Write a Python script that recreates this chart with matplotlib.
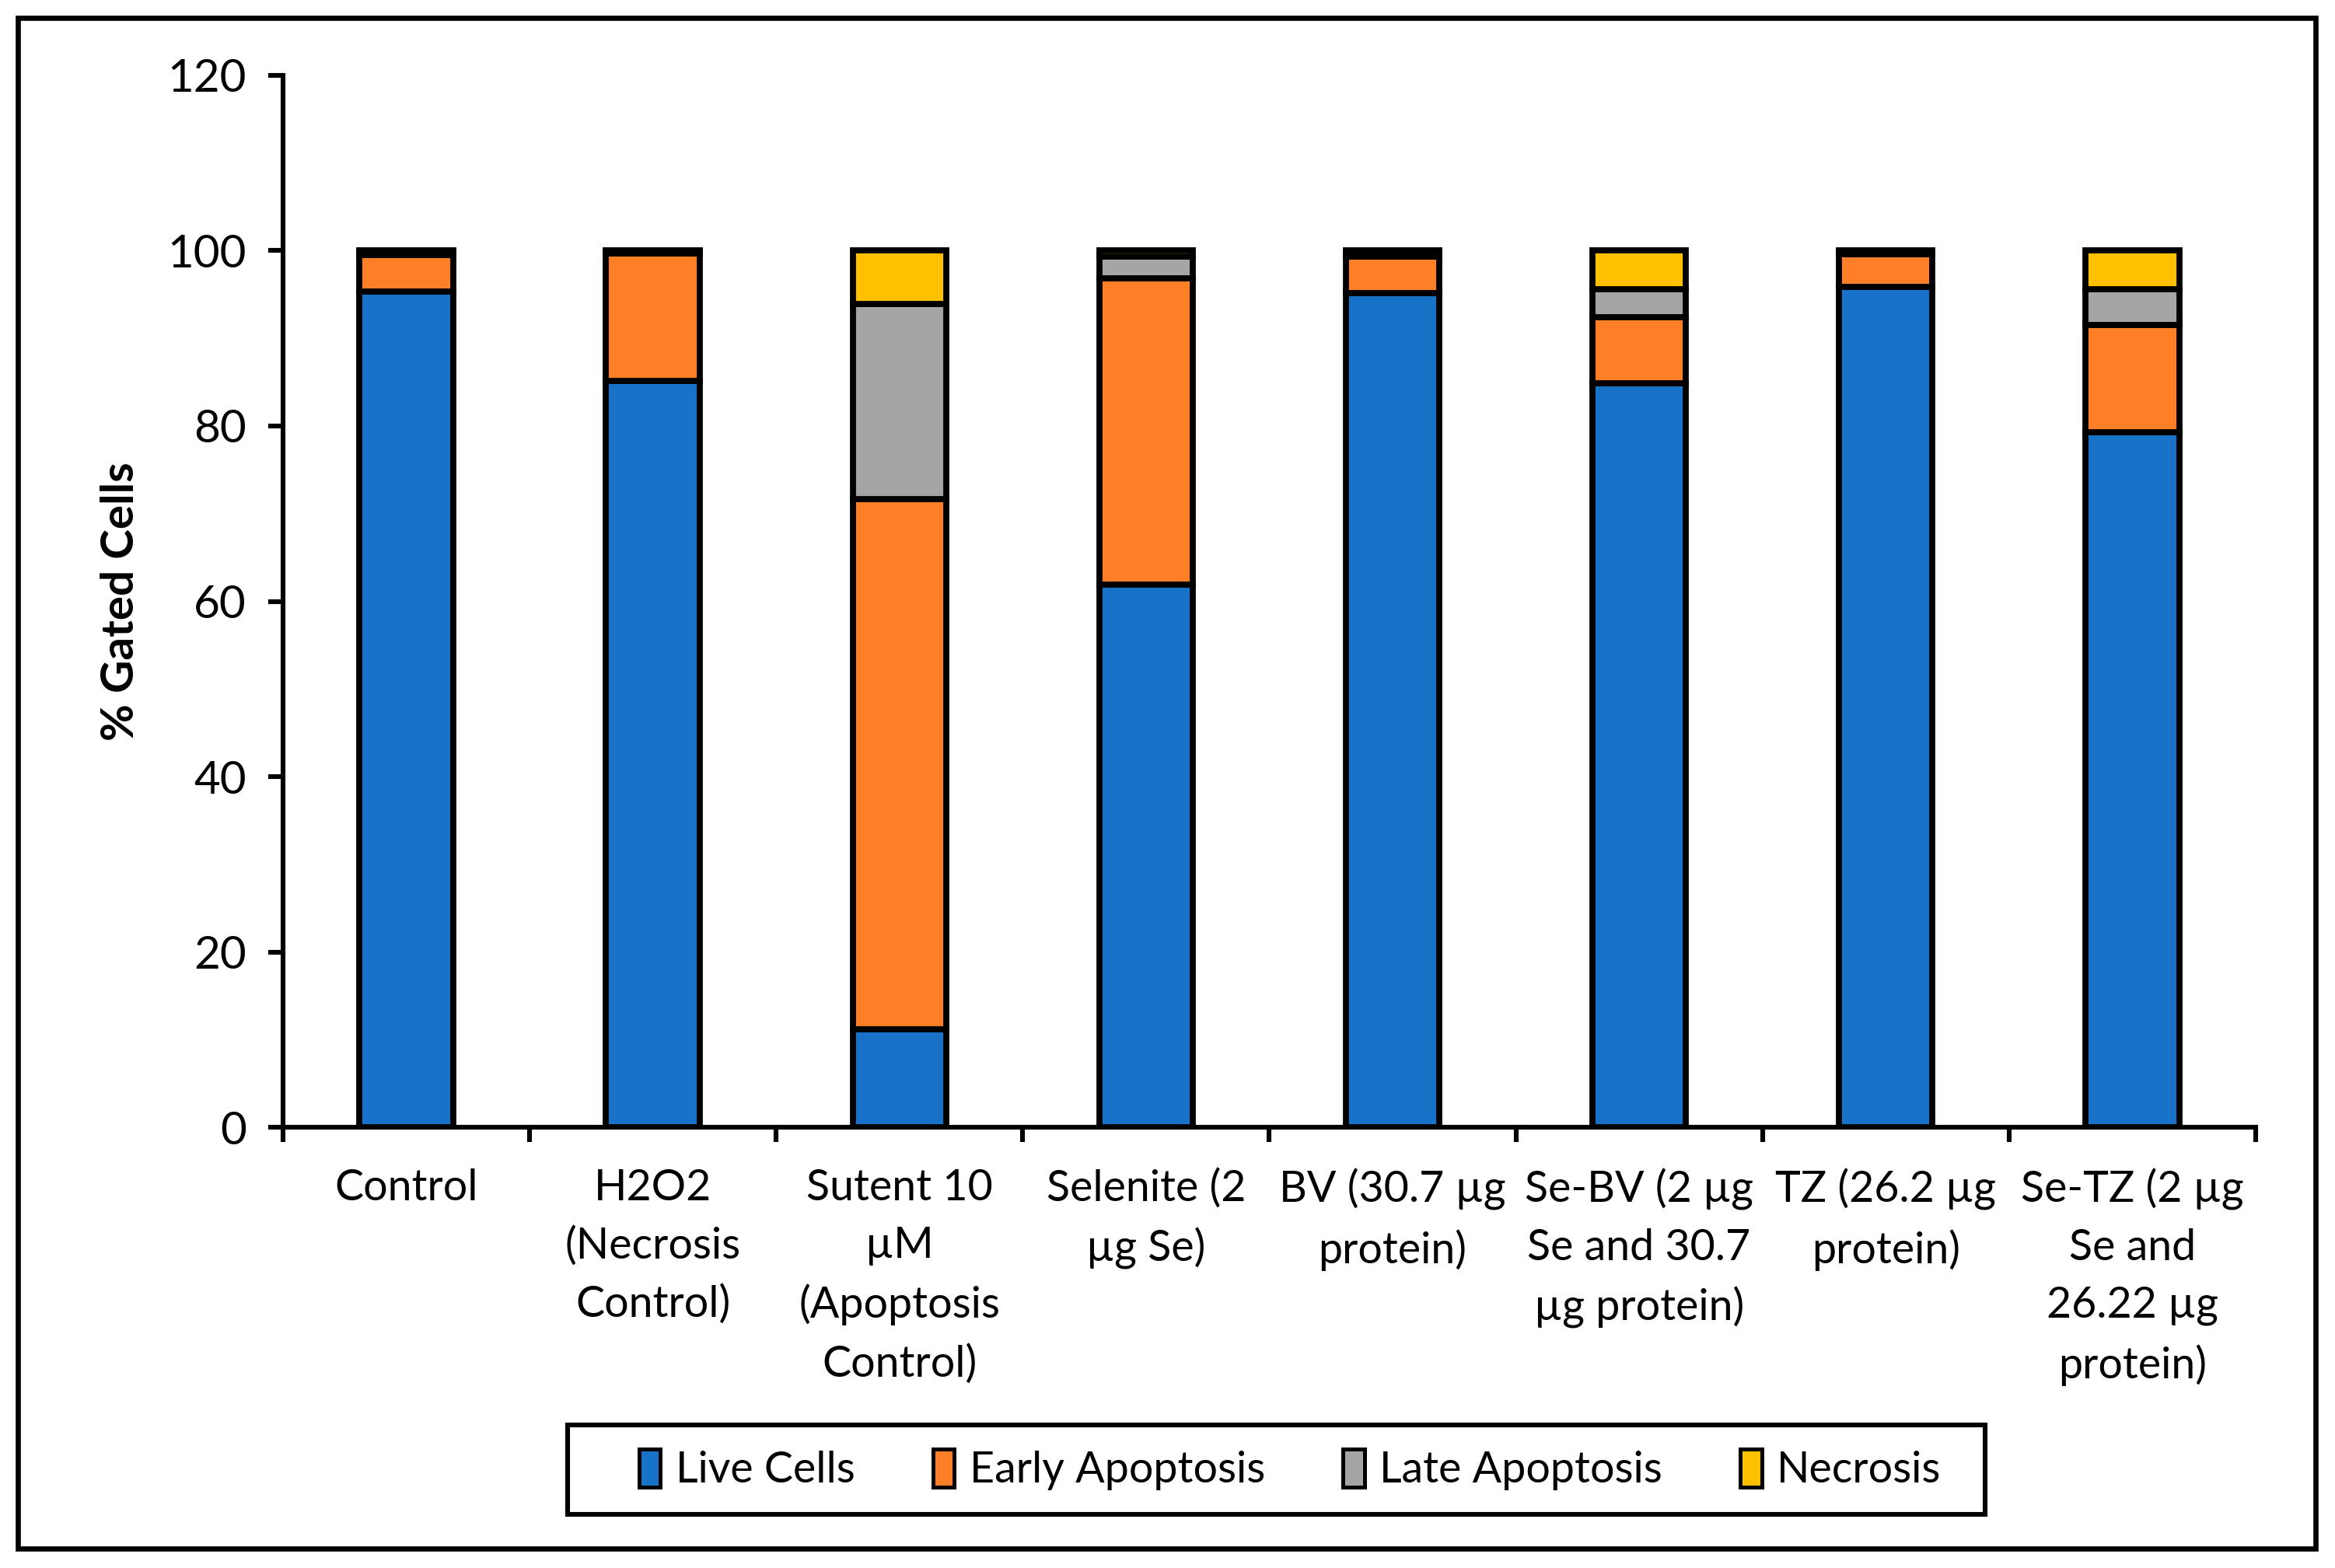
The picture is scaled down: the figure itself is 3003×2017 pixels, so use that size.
import matplotlib
matplotlib.use('Agg')
import matplotlib.pyplot as plt
from matplotlib.patches import Rectangle, Patch
import numpy as np

plt.rcParams['font.family'] = ['Lato', 'DejaVu Sans']

categories = [
    'Control',
    'H2O2\n(Necrosis\nControl)',
    'Sutent 10\nµM\n(Apoptosis\nControl)',
    'Selenite (2\nµg Se)',
    'BV (30.7 µg\nprotein)',
    'Se-BV (2 µg\nSe and 30.7\nµg protein)',
    'TZ (26.2 µg\nprotein)',
    'Se-TZ (2 µg\nSe and\n26.22 µg\nprotein)',
]

live_cells = [95.3, 85.1, 11.2, 61.9, 95.2, 84.9, 95.9, 79.3]
early_apoptosis = [4.2, 14.6, 60.5, 34.9, 4.1, 7.5, 3.7, 12.2]
late_apoptosis = [0.2, 0.1, 22.2, 2.5, 0.3, 3.2, 0.1, 4.1]
necrosis = [0.3, 0.2, 6.1, 0.7, 0.4, 4.4, 0.3, 4.4]

series_names = ['Live Cells', 'Early Apoptosis', 'Late Apoptosis', 'Necrosis']
series_colors = ['#1872C8', '#FF7F27', '#A5A5A5', '#FFC000']

y_ticks = [0, 20, 40, 60, 80, 100, 120]

width, height = 3003, 2017
dpi = 200
fig = plt.figure(figsize=(width / dpi, height / dpi), dpi=dpi)
ax = fig.add_axes([0.1212, 0.281, 0.966 - 0.1212, 0.952 - 0.281])

x = np.arange(len(categories))
bottom = np.zeros(len(categories))
for vals, name, col in zip([live_cells, early_apoptosis, late_apoptosis, necrosis],
                           series_names, series_colors):
    ax.bar(x, vals, width=0.38, bottom=bottom, color=col, edgecolor='black',
           linewidth=2.8, label=name, zorder=3)
    bottom += np.array(vals)

ax.set_xlim(-0.5, len(categories) - 0.5)
ax.set_ylim(0, 120)
ax.set_yticks(y_ticks)
ax.tick_params(axis='y', direction='out', length=7, width=2.2, labelsize=21, pad=10)

ax.set_xticks(x)
ax.set_xticklabels(categories, fontsize=20, linespacing=1.55, va='top')
ax.set_xticks(np.arange(-0.5, len(categories)), minor=True)
ax.tick_params(axis='x', which='major', length=0, pad=19)
ax.tick_params(axis='x', which='minor', direction='out', length=7, width=2.2)

for s in ['top', 'right']:
    ax.spines[s].set_visible(False)
for s in ['left', 'bottom']:
    ax.spines[s].set_linewidth(2.2)

ax.set_ylabel('% Gated Cells', fontsize=21, fontweight='bold')
ax.yaxis.set_label_coords(-0.0717, 0.5)

# legend entries without frame, box drawn separately
handles = [Patch(facecolor=c, edgecolor='black', linewidth=1.8) for c in series_colors]
leg = fig.legend(handles, series_names, loc='center', bbox_to_anchor=(0.5525, 0.0627),
                 ncol=4, fontsize=20, frameon=False,
                 handlelength=0.5, handleheight=1.0, handletextpad=0.35,
                 columnspacing=1.8, borderpad=0.3)
fig.patches.append(Rectangle((0.2431, 0.0342), 0.8501 - 0.2431, 0.0912 - 0.0342,
                             transform=fig.transFigure, fill=False,
                             edgecolor='black', linewidth=2.2))

fig.patches.append(Rectangle((0.0077, 0.0124), 0.9917 - 0.0077, 0.9886 - 0.0124,
                             transform=fig.transFigure, fill=False,
                             edgecolor='black', linewidth=2.4))

fig.savefig('out.png', dpi=dpi)
